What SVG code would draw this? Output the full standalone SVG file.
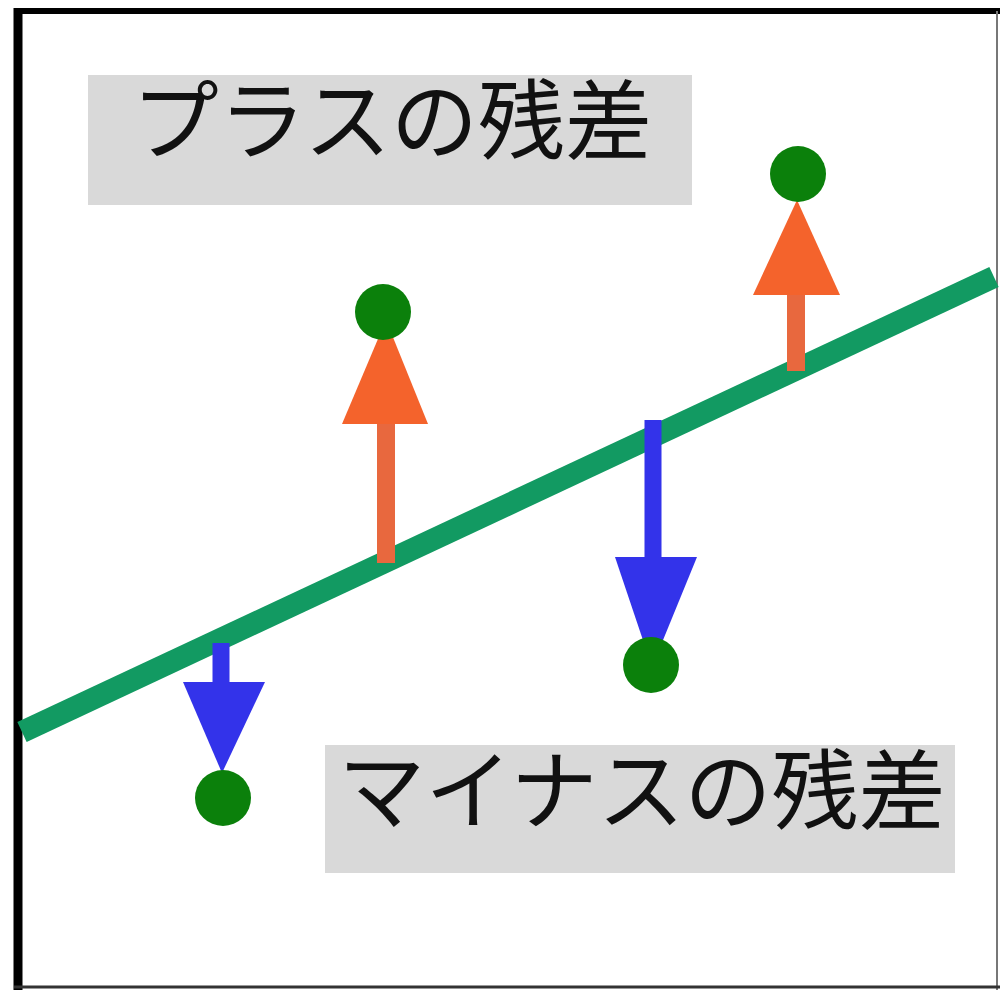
<svg xmlns="http://www.w3.org/2000/svg" width="1000" height="990" viewBox="0 0 1000 990">
<style>
.lbl{fill:#d9d9d9}
.txt{font-family:"Noto Sans CJK JP","Noto Sans CJK SC",sans-serif;font-size:87px;fill:#111;text-anchor:middle}
.pt{fill:#0b800b}
.up{fill:#f4632c}
.upS{stroke:#e8683e;stroke-width:18}
.dn{fill:#3333ea}
.dnS{stroke:#3333ea;stroke-width:17}
</style>
<rect width="1000" height="990" fill="#fff"/>
<g id="frame">
<line x1="18" y1="8" x2="18" y2="990" stroke="#000" stroke-width="9"/>
<line x1="14" y1="11" x2="1000" y2="11" stroke="#000" stroke-width="6"/>
<line x1="997" y1="11" x2="997" y2="990" stroke="#777" stroke-width="2"/>
<line x1="14" y1="987" x2="1000" y2="987" stroke="#333" stroke-width="3"/>
</g>
<g id="regression-line">
<line x1="22" y1="732" x2="994" y2="277" stroke="#129a62" stroke-width="22"/>
</g>
<g id="label-plus">
<rect class="lbl" x="88" y="75" width="604" height="130"/>
<text class="txt" x="392" y="153">プラスの残差</text>
</g>
<g id="label-minus">
<rect class="lbl" x="325" y="745" width="630" height="128"/>
<text class="txt" x="642" y="823">マイナスの残差</text>
</g>
<g id="connectors">
<line class="upS" x1="386" y1="563" x2="386" y2="420"/>
<polygon class="up" points="342,424 428,424 386,320"/>
<line class="upS" x1="796" y1="371" x2="796" y2="292"/>
<polygon class="up" points="753,295 840,295 797,200"/>
<line class="dnS" x1="653" y1="420" x2="653" y2="560"/>
<polygon class="dn" points="615,557 697,557 652,667"/>
<line class="dnS" x1="221" y1="643" x2="221" y2="685"/>
<polygon class="dn" points="183,682 265,682 222,773"/>
</g>
<g id="point-1"><circle class="pt" cx="383" cy="312" r="28"/></g>
<g id="point-2"><circle class="pt" cx="798" cy="174" r="28"/></g>
<g id="point-3"><circle class="pt" cx="651" cy="665" r="28"/></g>
<g id="point-4"><circle class="pt" cx="223" cy="798" r="28"/></g>
</svg>
